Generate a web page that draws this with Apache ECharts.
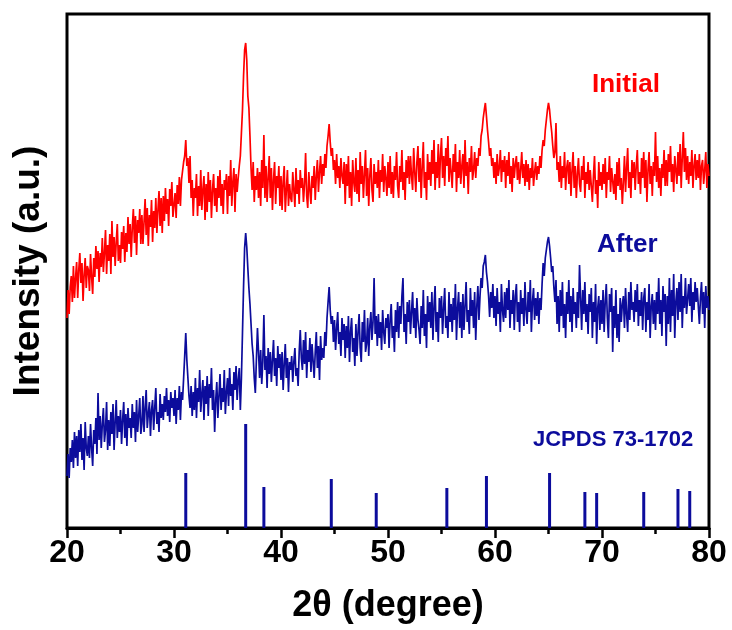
<!DOCTYPE html>
<html>
<head>
<meta charset="utf-8">
<script src="https://cdn.jsdelivr.net/npm/echarts@6/dist/echarts.min.js"></script>
<style>html,body{margin:0;padding:0;background:#fff}#c{width:732px;height:630px}</style>
</head>
<body>
<div id="c"></div>
<script>
// 2θ sampling of the scans
const thetaStart = 20, thetaStep = 0.1;
// Intensity (a.u.), "Initial" sample, one row per degree (20.0 ... 79.9, then 80.0)
const initialIntensity = [
210,238,214,241,252,226,262,230,250,266,
230,258,275,245,265,227,253,270,240,262,
258,237,274,251,234,270,251,282,259,277,
246,275,261,290,256,275,298,254,283,267,
294,254,307,271,291,262,286,304,267,283,
265,296,279,302,266,295,276,311,284,304,
271,300,319,285,312,273,308,295,319,284,
313,284,306,329,293,320,282,313,301,328,
286,317,300,330,295,318,337,302,330,295,
332,307,340,314,329,302,339,322,346,311,
312,335,310,343,324,351,322,348,349,366,
372,388,362,370,345,372,330,348,312,340,
330,354,312,342,322,358,318,338,352,308,
344,316,356,326,348,310,338,354,322,340,
316,352,330,358,322,344,314,348,338,354,
314,352,332,368,322,346,360,316,354,336,
350,362,372,395,418,452,478,485,468,432,
420,392,360,338,366,326,352,338,360,330,
356,322,368,340,393,330,362,326,350,372,
330,360,318,348,366,324,352,340,362,322,
352,318,346,362,316,338,358,322,344,330,
326,356,338,321,360,334,348,324,358,340,
350,326,344,375,332,320,356,338,324,352,
340,362,328,352,368,336,356,372,344,364,
352,374,360,382,392,404,386,372,380,358,
368,344,374,350,362,340,370,352,344,366,
324,364,342,372,330,356,322,368,346,336,
370,334,358,326,376,344,362,330,354,378,
332,360,322,352,370,338,326,364,344,356,
340,368,330,358,346,374,336,362,350,332,
366,340,372,334,356,330,362,348,376,342,
330,362,346,378,338,356,328,368,350,372,
344,372,352,338,380,356,336,366,382,346,
370,330,362,386,340,356,328,374,348,366,
342,378,354,388,338,366,350,384,340,372,
390,350,372,342,380,362,392,346,370,356,
340,374,356,384,336,366,350,378,344,362,
374,340,388,352,366,334,370,356,382,348,
358,376,350,370,362,380,372,392,398,410,
418,425,412,398,386,372,380,362,370,350,
366,344,374,352,360,378,346,368,356,372,
340,368,352,376,344,362,336,370,350,364,
372,348,366,344,358,376,350,364,342,368,
346,364,338,360,350,370,342,356,366,348,
362,354,372,360,378,388,382,398,408,418,
425,418,406,396,382,370,376,405,358,366,
346,372,340,362,350,376,338,360,368,344,
366,332,358,376,340,362,330,354,370,344,
336,362,348,372,330,356,344,366,338,358,
360,326,352,372,334,348,320,366,342,356,
338,364,344,370,330,356,348,372,336,360,
362,334,354,328,366,342,370,338,350,324,
346,372,336,360,380,340,356,330,368,350,
366,338,362,378,344,356,334,370,350,376,
340,368,326,358,376,344,362,332,366,352,
396,346,372,340,360,332,364,350,378,342,
368,342,374,356,382,346,364,336,372,358,
344,376,352,384,340,370,396,356,380,348,
372,344,366,352,378,340,362,374,348,368,
350,374,338,362,368,344,358,376,340,364,
352
];
// Intensity (a.u.), "After" sample
const afterIntensity = [
52,74,50,80,66,88,60,96,70,92,
62,98,76,104,68,90,58,106,80,72,
92,70,104,80,62,98,84,110,74,135,
88,112,80,104,120,86,98,126,78,108,
82,116,94,124,78,106,128,90,112,96,
118,84,108,126,90,114,82,120,100,110,
90,124,100,116,86,128,96,112,130,94,
104,132,96,120,138,100,114,126,92,118,
128,98,120,140,104,116,96,134,110,124,
108,132,116,140,112,128,106,136,120,130,
112,138,104,130,118,142,108,136,128,150,
172,195,168,150,132,120,142,112,136,118,
150,110,140,126,158,116,134,148,108,142,
124,152,112,144,130,160,118,138,96,128,
146,110,132,154,118,140,126,158,114,136,
150,122,160,132,144,118,156,138,162,128,
148,160,118,150,195,241,280,295,281,260,
240,224,204,184,172,150,135,168,200,176,
150,178,144,166,213,158,172,140,180,154,
176,146,168,188,152,170,142,182,160,174,
148,176,138,164,184,150,170,136,166,158,
172,146,166,180,152,160,142,176,198,170,
158,188,164,196,150,178,166,190,156,184,
186,150,176,196,160,182,148,192,168,180,
170,196,182,210,226,241,218,204,212,186,
208,178,200,216,184,196,172,210,188,204,
170,202,180,212,166,196,210,176,190,162,
204,172,196,214,180,166,206,186,218,176,
184,210,172,202,216,188,206,250,194,212,
182,214,190,206,178,218,196,184,210,200,
214,180,208,224,190,202,176,218,196,226,
190,222,204,232,250,196,214,184,226,206,
228,194,216,236,200,220,190,230,208,198,
184,222,200,238,192,214,180,232,206,226,
200,236,188,222,242,196,216,186,230,210,
232,194,220,240,200,212,190,236,206,224,
196,230,208,244,188,220,236,200,226,190,
234,198,222,246,206,218,194,240,212,228,
200,236,188,222,242,208,232,250,240,262,
266,273,256,246,232,211,236,220,244,210,
232,202,240,214,226,196,244,218,206,236,
210,240,218,248,200,228,214,238,198,232,
244,206,226,196,238,214,230,202,246,218,
204,236,216,248,196,226,240,208,230,212,
236,204,230,218,244,265,252,270,278,286,
291,282,270,256,262,241,226,248,204,232,
196,238,212,246,200,224,190,236,214,248,
206,232,196,240,214,226,200,236,210,263,
230,198,238,214,246,206,224,194,234,216,
240,190,226,206,244,184,220,232,198,228,
204,238,196,226,244,210,190,234,216,240,
176,222,200,238,190,214,186,230,206,224,
232,200,240,214,196,236,208,246,218,226,
206,238,216,244,202,228,212,236,198,230,
240,196,226,208,244,190,222,234,204,228,
198,236,214,250,204,228,192,242,216,234,
182,232,204,250,196,238,212,254,190,226,
240,208,246,216,254,200,232,220,250,214,
212,244,222,250,206,236,218,246,226,240,
238,204,230,246,214,236,200,242,220,232,
218
];
// JCPDS 73-1702 reference pattern
const refPositions = [31.1, 36.7, 38.4, 44.7, 48.9, 55.5, 59.2, 65.1, 68.4, 69.5, 73.9, 77.1, 78.2];
const refIntensity = [55, 104, 41, 49, 35, 40, 52, 55, 36, 35, 36, 39, 37];
const xTicks = [20, 30, 40, 50, 60, 70, 80];

const RED = '#ff0000', BLUE = '#0c0c9c';
const FONT = 'Arial, "Liberation Sans", Helvetica, sans-serif';

function toPairs(arr) {
  return arr.map((v, i) => [+(thetaStart + i * thetaStep).toFixed(2), v]);
}

const chart = echarts.init(document.getElementById('c'), null, {renderer: 'canvas'});
chart.setOption({
  animation: false,
  backgroundColor: '#fff',
  grid: {left: 67, right: 23, top: 14, bottom: 102, show: true, borderColor: '#000', borderWidth: 3, backgroundColor: 'transparent'},
  xAxis: {
    type: 'value', min: xTicks[0], max: xTicks[xTicks.length - 1], interval: 10,
    name: '2θ (degree)', nameLocation: 'middle', nameGap: 60,
    nameTextStyle: {fontSize: 36, fontWeight: 'bold', color: '#000', fontFamily: FONT},
    axisLine: {show: true, lineStyle: {color: '#000', width: 3}},
    axisTick: {show: true, length: 10, lineStyle: {color: '#000', width: 2.5}},
    minorTick: {show: true, splitNumber: 2, length: 6, lineStyle: {color: '#000', width: 2.5}},
    splitLine: {show: false},
    axisLabel: {fontSize: 32, fontWeight: 'bold', color: '#000', margin: 9, fontFamily: FONT}
  },
  yAxis: {
    type: 'value', min: 0, max: 514,
    name: 'Intensity (a.u.)', nameLocation: 'middle', nameGap: 20,
    nameTextStyle: {fontSize: 37, fontWeight: 'bold', color: '#000', fontFamily: FONT},
    axisLine: {show: false}, axisTick: {show: false}, axisLabel: {show: false}, splitLine: {show: false}
  },
  series: [
    {type: 'line', name: 'Initial', data: toPairs(initialIntensity), showSymbol: false, symbol: 'none',
     lineStyle: {color: RED, width: 1.7}, itemStyle: {color: RED}, z: 3},
    {type: 'line', name: 'After', data: toPairs(afterIntensity), showSymbol: false, symbol: 'none',
     lineStyle: {color: BLUE, width: 1.7}, itemStyle: {color: BLUE}, z: 3},
    {type: 'bar', name: 'JCPDS 73-1702', data: refPositions.map((p, i) => [p, refIntensity[i]]),
     barWidth: 3, itemStyle: {color: BLUE}, z: 2}
  ],
  graphic: [
    {type: 'text', left: 592, top: 72, style: {text: 'Initial', fill: RED, font: 'bold 26px ' + FONT}},
    {type: 'text', left: 597, top: 232, style: {text: 'After', fill: BLUE, font: 'bold 26px ' + FONT}},
    {type: 'text', left: 533, top: 429, style: {text: 'JCPDS 73-1702', fill: BLUE, font: 'bold 22px ' + FONT}}
  ]
});
</script>
</body>
</html>
